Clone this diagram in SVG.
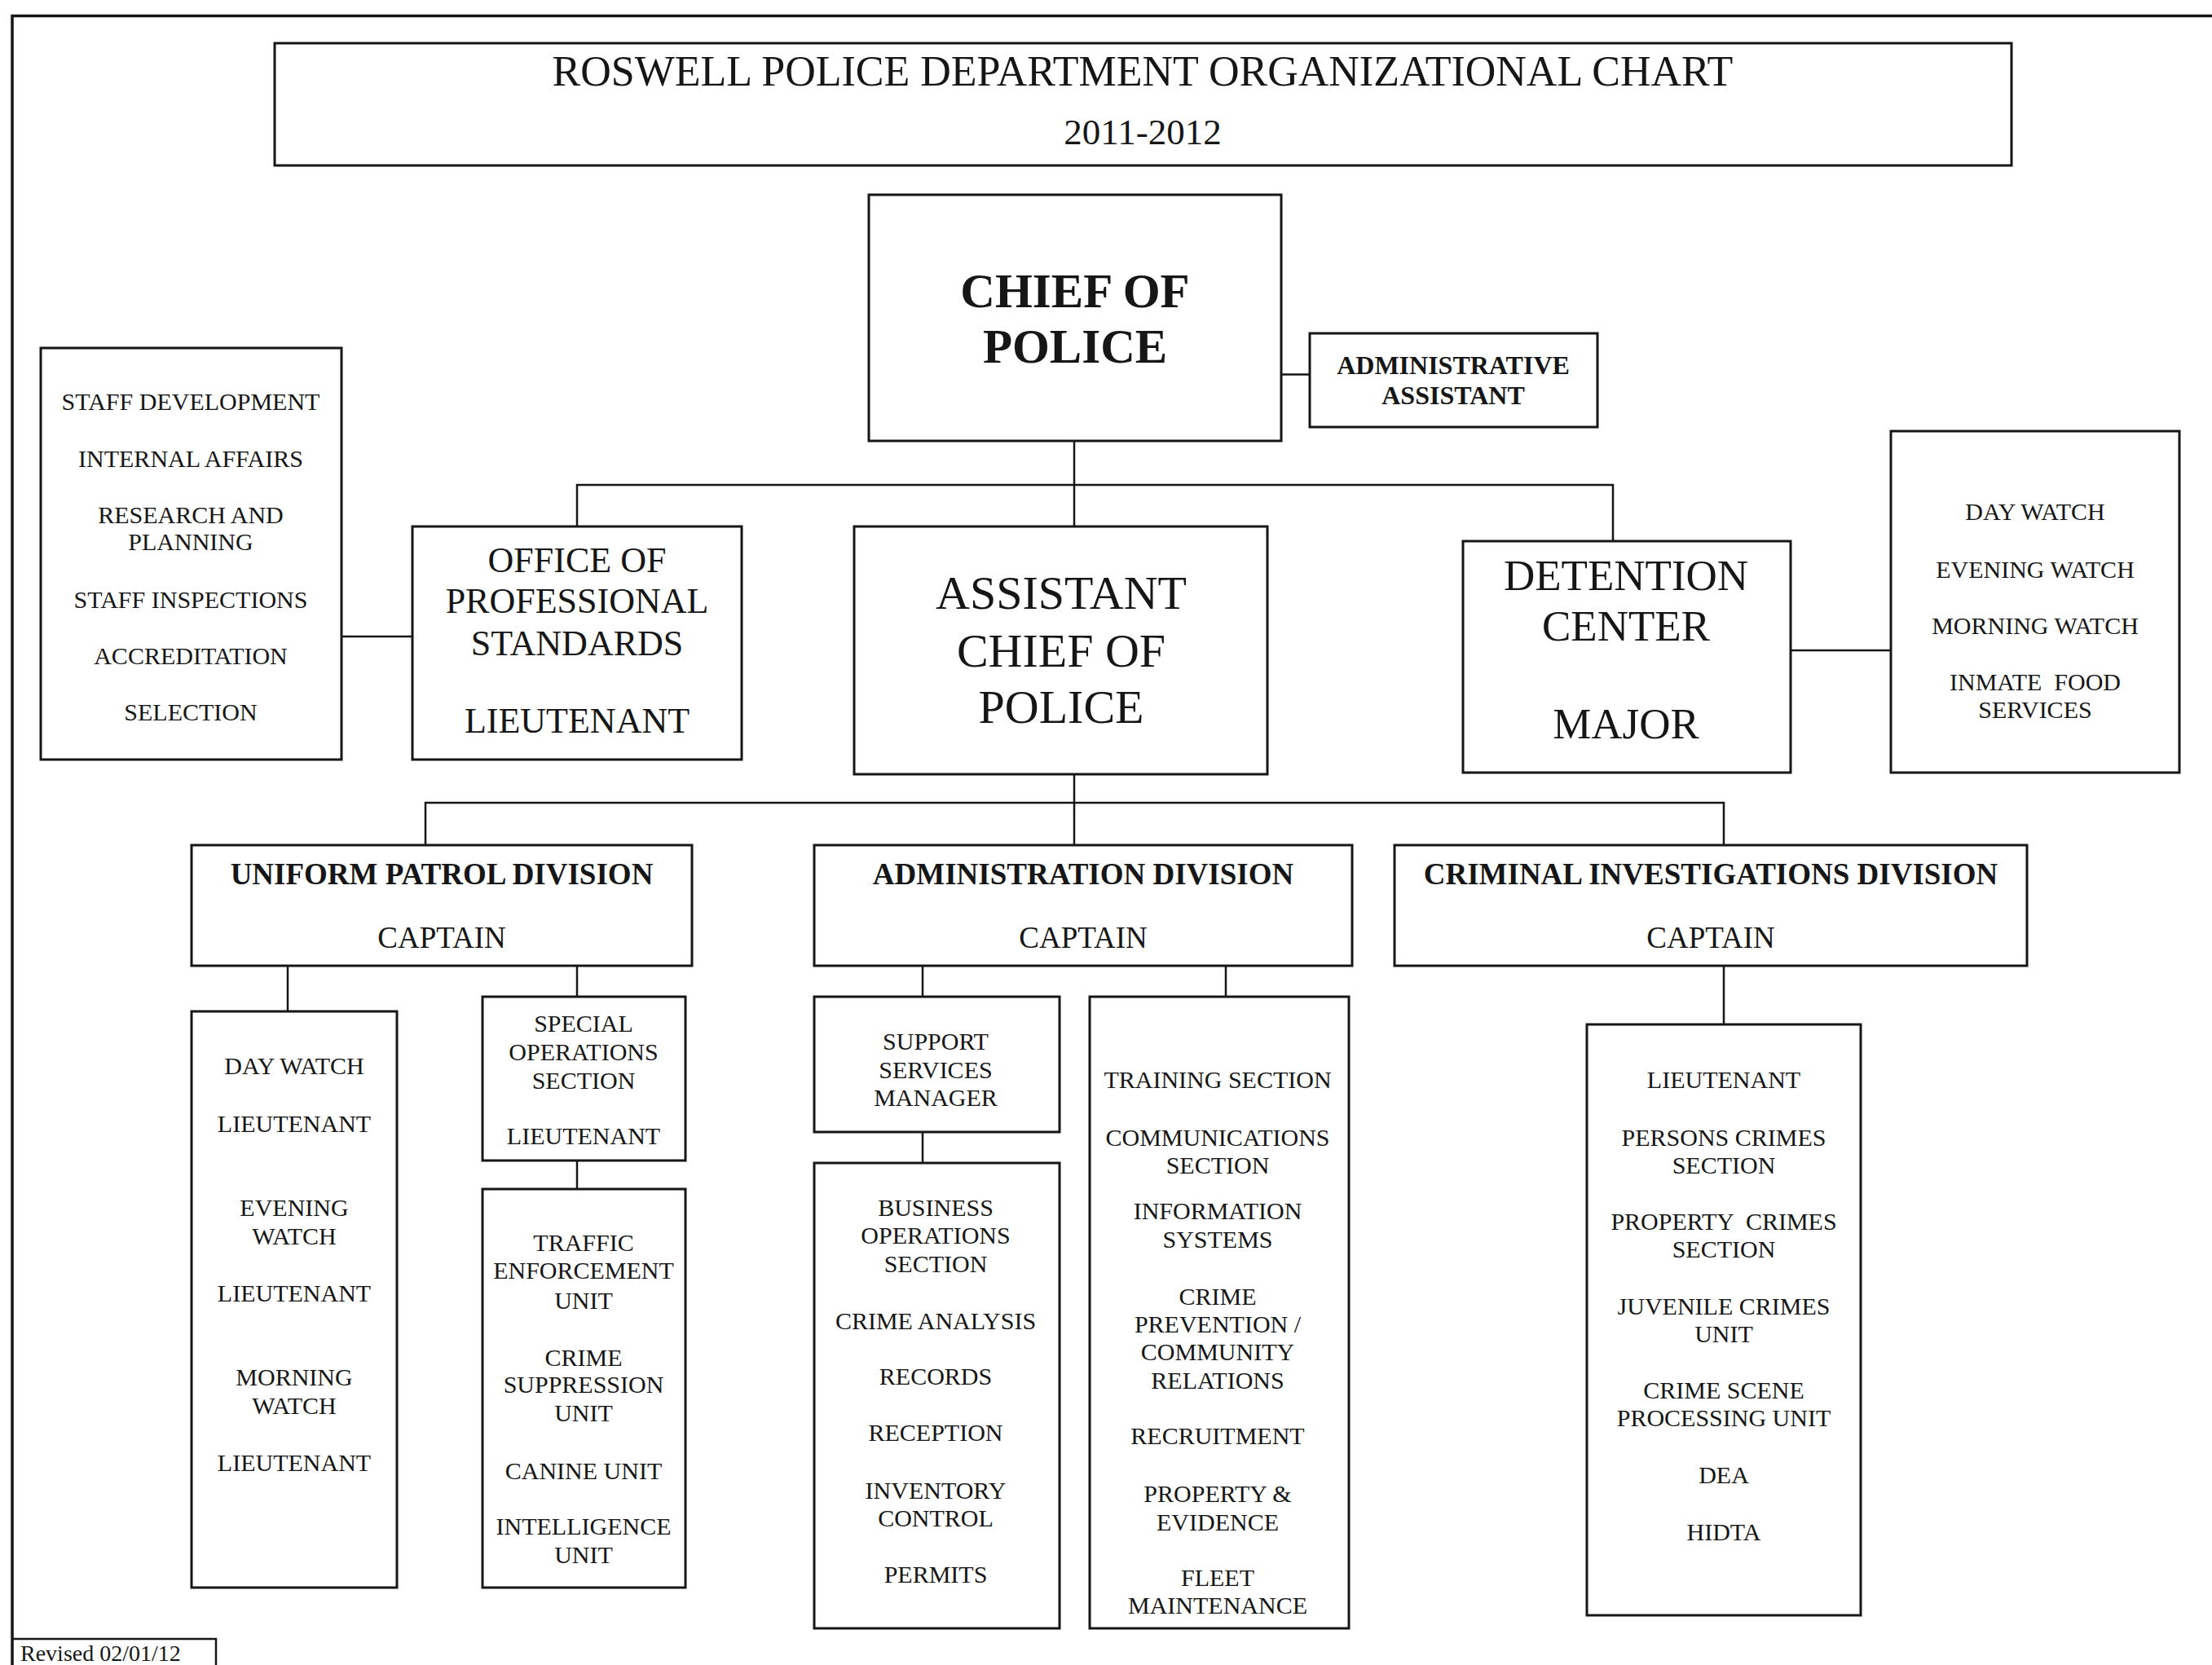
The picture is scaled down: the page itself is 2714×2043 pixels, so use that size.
<svg xmlns="http://www.w3.org/2000/svg" width="2714" height="2043" viewBox="0 0 2714 2043">
<style>
.box{fill:#fff;stroke:#161616;stroke-width:3}
.ln{fill:none;stroke:#161616;stroke-width:2.5}
text{font-family:"Liberation Serif","Times New Roman",serif;fill:#161616;text-anchor:middle}
.s{font-size:30px}
.m{font-size:44px}
.b{font-weight:bold}
</style>
<rect width="2714" height="2043" fill="#fff"/>
<path d="M15,2043 V19.5 H2714" fill="none" stroke="#161616" stroke-width="3.5"/>
<g id="connectors">
<path class="ln" d="M1572,459.5 H1607" stroke-width="3.5"/>
<path class="ln" d="M1318,541 V646"/>
<path class="ln" d="M708,646 V595 H1979 V664"/>
<path class="ln" d="M419,781 H506"/>
<path class="ln" d="M2197,798 H2320" stroke-width="3.5"/>
<path class="ln" d="M1318,950 V1037"/>
<path class="ln" d="M522,1037 V985 H2115 V1037"/>
<path class="ln" d="M353,1185 V1241"/>
<path class="ln" d="M708,1185 V1223"/>
<path class="ln" d="M708,1424 V1459"/>
<path class="ln" d="M1132,1185 V1223"/>
<path class="ln" d="M1132,1389 V1427"/>
<path class="ln" d="M1504,1185 V1223"/>
<path class="ln" d="M2115,1185 V1257"/>
</g>
<g id="title">
<rect class="box" x="337" y="53" width="2131" height="150"/>
<text x="1402" y="105" style="font-size:52px">ROSWELL POLICE DEPARTMENT ORGANIZATIONAL CHART</text>
<text x="1402" y="177" style="font-size:45px">2011-2012</text>
</g>
<g id="chief">
<rect class="box" x="1066" y="239" width="506" height="302"/>
<text class="b" x="1319" y="377" style="font-size:59px">CHIEF OF</text>
<text class="b" x="1319" y="445" style="font-size:59px">POLICE</text>
</g>
<g id="admin-assistant">
<rect class="box" x="1607" y="409" width="353" height="115"/>
<text class="b" x="1783" y="459" style="font-size:32px">ADMINISTRATIVE</text>
<text class="b" x="1783" y="496" style="font-size:32px">ASSISTANT</text>
</g>
<g id="ops-units">
<rect class="box" x="50" y="427" width="369" height="505"/>
<text class="s" x="234" y="503">STAFF DEVELOPMENT</text>
<text class="s" x="234" y="573">INTERNAL AFFAIRS</text>
<text class="s" x="234" y="642">RESEARCH AND</text>
<text class="s" x="234" y="675">PLANNING</text>
<text class="s" x="234" y="746">STAFF INSPECTIONS</text>
<text class="s" x="234" y="815">ACCREDITATION</text>
<text class="s" x="234" y="884">SELECTION</text>
</g>
<g id="ops">
<rect class="box" x="506" y="646" width="404" height="286"/>
<text class="m" x="708" y="702">OFFICE OF</text>
<text class="m" x="708" y="752">PROFESSIONAL</text>
<text class="m" x="708" y="804">STANDARDS</text>
<text class="m" x="708" y="899">LIEUTENANT</text>
</g>
<g id="assistant-chief">
<rect class="box" x="1048" y="646" width="507" height="304"/>
<text x="1302" y="747" style="font-size:58px">ASSISTANT</text>
<text x="1302" y="818" style="font-size:58px">CHIEF OF</text>
<text x="1302" y="887" style="font-size:58px">POLICE</text>
</g>
<g id="detention">
<rect class="box" x="1795" y="664" width="402" height="284"/>
<text x="1995" y="724" style="font-size:53px">DETENTION</text>
<text x="1995" y="786" style="font-size:53px">CENTER</text>
<text x="1995" y="906" style="font-size:53px">MAJOR</text>
</g>
<g id="detention-units">
<rect class="box" x="2320" y="529" width="354" height="419"/>
<text class="s" x="2497" y="638">DAY WATCH</text>
<text class="s" x="2497" y="709">EVENING WATCH</text>
<text class="s" x="2497" y="778">MORNING WATCH</text>
<text class="s" x="2497" y="847" xml:space="preserve">INMATE  FOOD</text>
<text class="s" x="2497" y="881">SERVICES</text>
</g>
<g id="uniform-patrol">
<rect class="box" x="235" y="1037" width="614" height="148"/>
<text class="b" x="542" y="1085" style="font-size:37px">UNIFORM PATROL DIVISION</text>
<text x="542" y="1163" style="font-size:37px">CAPTAIN</text>
</g>
<g id="administration">
<rect class="box" x="999" y="1037" width="660" height="148"/>
<text class="b" x="1329" y="1085" style="font-size:37px">ADMINISTRATION DIVISION</text>
<text x="1329" y="1163" style="font-size:37px">CAPTAIN</text>
</g>
<g id="criminal-investigations">
<rect class="box" x="1711" y="1037" width="776" height="148"/>
<text class="b" x="2099" y="1085" style="font-size:37px">CRIMINAL INVESTIGATIONS DIVISION</text>
<text x="2099" y="1163" style="font-size:37px">CAPTAIN</text>
</g>
<g id="watches">
<rect class="box" x="235" y="1241" width="252" height="707"/>
<text class="s" x="361" y="1318">DAY WATCH</text>
<text class="s" x="361" y="1389">LIEUTENANT</text>
<text class="s" x="361" y="1492">EVENING</text>
<text class="s" x="361" y="1527">WATCH</text>
<text class="s" x="361" y="1597">LIEUTENANT</text>
<text class="s" x="361" y="1700">MORNING</text>
<text class="s" x="361" y="1735">WATCH</text>
<text class="s" x="361" y="1805">LIEUTENANT</text>
</g>
<g id="special-operations">
<rect class="box" x="592" y="1223" width="249" height="201"/>
<text class="s" x="716" y="1266">SPECIAL</text>
<text class="s" x="716" y="1301">OPERATIONS</text>
<text class="s" x="716" y="1336">SECTION</text>
<text class="s" x="716" y="1404">LIEUTENANT</text>
</g>
<g id="special-units">
<rect class="box" x="592" y="1459" width="249" height="489"/>
<text class="s" x="716" y="1535">TRAFFIC</text>
<text class="s" x="716" y="1569">ENFORCEMENT</text>
<text class="s" x="716" y="1606">UNIT</text>
<text class="s" x="716" y="1676">CRIME</text>
<text class="s" x="716" y="1709">SUPPRESSION</text>
<text class="s" x="716" y="1744">UNIT</text>
<text class="s" x="716" y="1815">CANINE UNIT</text>
<text class="s" x="716" y="1883">INTELLIGENCE</text>
<text class="s" x="716" y="1918">UNIT</text>
</g>
<g id="support-services">
<rect class="box" x="999" y="1223" width="301" height="166"/>
<text class="s" x="1148" y="1288">SUPPORT</text>
<text class="s" x="1148" y="1323">SERVICES</text>
<text class="s" x="1148" y="1357">MANAGER</text>
</g>
<g id="business-operations">
<rect class="box" x="999" y="1427" width="301" height="571"/>
<text class="s" x="1148" y="1492">BUSINESS</text>
<text class="s" x="1148" y="1526">OPERATIONS</text>
<text class="s" x="1148" y="1561">SECTION</text>
<text class="s" x="1148" y="1631">CRIME ANALYSIS</text>
<text class="s" x="1148" y="1699">RECORDS</text>
<text class="s" x="1148" y="1768">RECEPTION</text>
<text class="s" x="1148" y="1839">INVENTORY</text>
<text class="s" x="1148" y="1873">CONTROL</text>
<text class="s" x="1148" y="1942">PERMITS</text>
</g>
<g id="training">
<rect class="box" x="1337" y="1223" width="318" height="775"/>
<text class="s" x="1494" y="1335">TRAINING SECTION</text>
<text class="s" x="1494" y="1406">COMMUNICATIONS</text>
<text class="s" x="1494" y="1440">SECTION</text>
<text class="s" x="1494" y="1496">INFORMATION</text>
<text class="s" x="1494" y="1531">SYSTEMS</text>
<text class="s" x="1494" y="1601">CRIME</text>
<text class="s" x="1494" y="1635">PREVENTION /</text>
<text class="s" x="1494" y="1669">COMMUNITY</text>
<text class="s" x="1494" y="1704">RELATIONS</text>
<text class="s" x="1494" y="1772">RECRUITMENT</text>
<text class="s" x="1494" y="1843">PROPERTY &amp;</text>
<text class="s" x="1494" y="1878">EVIDENCE</text>
<text class="s" x="1494" y="1946">FLEET</text>
<text class="s" x="1494" y="1980">MAINTENANCE</text>
</g>
<g id="cid-units">
<rect class="box" x="1947" y="1257" width="336" height="725"/>
<text class="s" x="2115" y="1335">LIEUTENANT</text>
<text class="s" x="2115" y="1406">PERSONS CRIMES</text>
<text class="s" x="2115" y="1440">SECTION</text>
<text class="s" x="2115" y="1509" xml:space="preserve">PROPERTY  CRIMES</text>
<text class="s" x="2115" y="1543">SECTION</text>
<text class="s" x="2115" y="1613">JUVENILE CRIMES</text>
<text class="s" x="2115" y="1647">UNIT</text>
<text class="s" x="2115" y="1716">CRIME SCENE</text>
<text class="s" x="2115" y="1750">PROCESSING UNIT</text>
<text class="s" x="2115" y="1820">DEA</text>
<text class="s" x="2115" y="1890">HIDTA</text>
</g>
<g id="revised">
<path class="ln" d="M15,2011 H265 V2043" stroke-width="3"/>
<text x="25" y="2038" style="font-size:28px;text-anchor:start">Revised 02/01/12</text>
</g>
</svg>
